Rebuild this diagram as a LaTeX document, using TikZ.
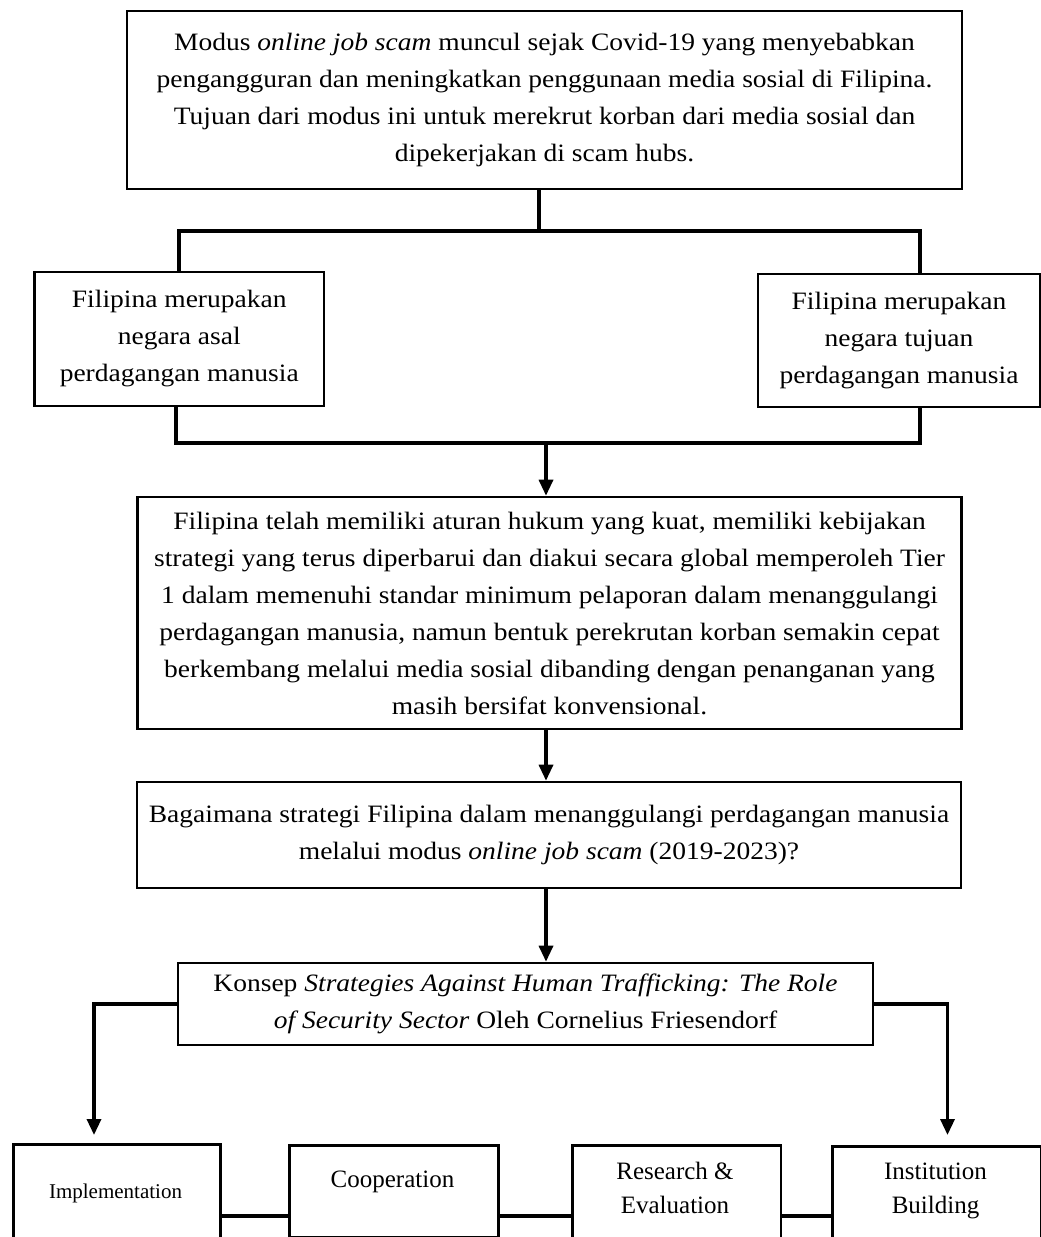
\documentclass[tikz,border=0pt]{standalone}
\usepackage{fontspec}
\setmainfont{Liberation Serif}[FakeStretch=1.1]
\newfontfamily\plainserif{Liberation Serif}
\usetikzlibrary{arrows.meta}
\begin{document}
\begin{tikzpicture}[x=1pt,y=-1pt,
  box/.style={draw, line width=2.6pt, inner sep=0pt, align=center,
    font=\fontsize{25}{37}\selectfont},
  bbox/.style={draw, line width=2.6pt, inner sep=0pt, anchor=north west, minimum height=130pt},
  btext/.style={inner sep=0pt, align=center, font=\plainserif\fontsize{25}{34}\selectfont},
  conn/.style={line width=3.3pt},
  bconn/.style={line width=4pt},
  arr/.style={conn, -{Triangle[length=16pt,width=14pt]}}]
\useasboundingbox (0,0) rectangle (1041,1237);
\clip (0,0) rectangle (1041,1237);

\node[box, minimum width=835pt, minimum height=178pt] (top) at (544.5,100)
  {Modus \textit{online job scam} muncul sejak Covid-19 yang menyebabkan\\
   pengangguran dan meningkatkan penggunaan media sosial di Filipina.\\
   Tujuan dari modus ini untuk merekrut korban dari media sosial dan\\
   dipekerjakan di scam hubs.};

\node[box, minimum width=289.5pt, minimum height=134pt] (left) at (179.25,339)
  {Filipina merupakan\\ negara asal\\ perdagangan manusia};
\node[box, minimum width=282pt, minimum height=133pt] (right) at (899,340.5)
  {Filipina merupakan\\ negara tujuan\\ perdagangan manusia};

\node[box, minimum width=824pt, minimum height=232pt] (middle) at (549.5,613)
  {Filipina telah memiliki aturan hukum yang kuat, memiliki kebijakan\\
   strategi yang terus diperbarui dan diakui secara global memperoleh Tier\\
   1 dalam memenuhi standar minimum pelaporan dalam menanggulangi\\
   perdagangan manusia, namun bentuk perekrutan korban semakin cepat\\
   berkembang melalui media sosial dibanding dengan penanganan yang\\
   masih bersifat konvensional.};

\node[box, minimum width=824pt, minimum height=106pt] (question) at (549,835)
  {Bagaimana strategi Filipina dalam menanggulangi perdagangan manusia\\
   melalui modus \textit{online job scam} (2019-2023)?};

\node[box, minimum width=695pt, minimum height=82pt] (konsep) at (525.5,1004)
  {Konsep \textit{Strategies Against Human Trafficking: The Role}\\
   \textit{of Security Sector} Oleh Cornelius Friesendorf};

\node[bbox, minimum width=207pt] (impl) at (12,1143) {};
\node[bbox, minimum width=209pt, minimum height=92pt] (coop) at (288,1144) {};
\node[bbox, minimum width=208.5pt] (rese) at (571,1144) {};
\node[bbox, minimum width=209pt] (inst) at (831,1145) {};

\node[btext, anchor=base, font=\plainserif\fontsize{21}{26}\selectfont] (implT) at (115.5,1198) {Implementation};
\node[btext, anchor=base] (coopT) at (392.5,1187) {Cooperation};
\node[btext] (reseT) at (675,1188) {Research \&\\ Evaluation};
\node[btext] (instT) at (935.5,1191) {Institution\\ Building};

% connectors
\coordinate (tm) at (539,231);
\coordinate (tl) at (179,231);
\coordinate (tr) at (920,231);
\draw[conn] (top.south -| tm) -- (tm);
\draw[conn] (left.north -| tl) -- (tl) -- (tr) -- (right.north -| tr);

\coordinate (bl) at (176,443);
\coordinate (br) at (920,443);
\coordinate (bm) at (546,443);
\draw[conn] (left.south -| bl) -- (bl) -- (br) -- (right.south -| br);
\draw[arr] (bm) -- (middle.north -| bm);
\draw[arr] (middle.south -| bm) -- (question.north -| bm);
\draw[arr] (question.south -| bm) -- (konsep.north -| bm);

\coordinate (kl) at (94,1004);
\coordinate (kr) at (947.5,1004);
\draw[arr, shorten >=8pt] (konsep.west) -- (kl) -- (impl.north -| kl);
\draw[arr, shorten >=10pt] (konsep.east) -- (kr) -- (inst.north -| kr);

\draw[bconn] ([yshift=-73pt]impl.north east) -- ([yshift=-72pt]coop.north west);
\draw[bconn] ([yshift=-72pt]coop.north east) -- ([yshift=-72pt]rese.north west);
\draw[bconn] ([yshift=-72pt]rese.north east) -- ([yshift=-71pt]inst.north west);
\end{tikzpicture}
\end{document}
